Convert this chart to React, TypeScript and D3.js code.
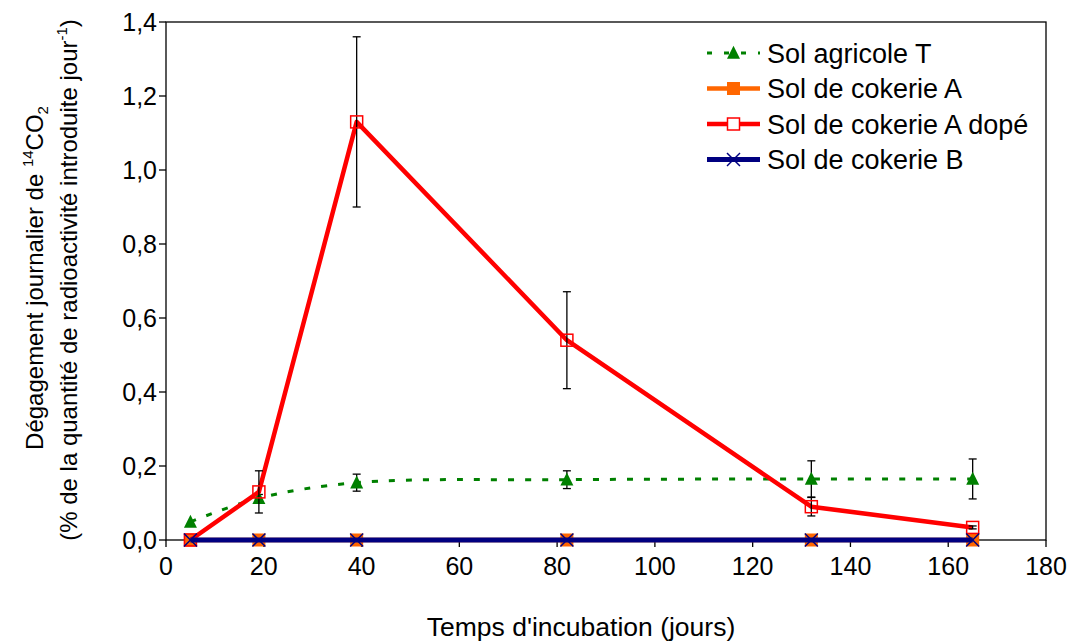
import React from "react";
import * as d3 from "d3";

const days = [5, 19, 39, 82, 132, 165];
const agricoleT = [0.049, 0.113, 0.155, 0.163, 0.165, 0.165];
const agricoleTErr = [0, 0.01, 0.023, 0.024, 0.049, 0.054];
const cokerieA = [0, 0, 0, 0, 0, 0];
const cokerieADope = [0, 0.13, 1.13, 0.54, 0.09, 0.034];
const cokerieADopeErr = [0, 0.057, 0.23, 0.131, 0.025, 0.004];
const cokerieB = [0, 0, 0, 0, 0, 0];
const xTicks = [0, 20, 40, 60, 80, 100, 120, 140, 160, 180];
const yTicks = [0, 0.2, 0.4, 0.6, 0.8, 1.0, 1.2, 1.4];
const legendLabels = ["Sol agricole T", "Sol de cokerie A", "Sol de cokerie A dopé", "Sol de cokerie B"];

const W = 1069;
const H = 643;
const L = 166, R = 1046, T = 22, B = 540;
const FONT = "'Liberation Sans', Arial, sans-serif";

export default function App() {
  const x = d3.scaleLinear().domain([0, 180]).range([L, R]);
  const y = d3.scaleLinear().domain([0, 1.4]).range([B, T]);
  const fmt = (v: number) => v.toFixed(1).replace(".", ",");

  const smooth = d3
    .line<number>()
    .x((_, i) => x(days[i]))
    .y((d) => y(d))
    .curve(d3.curveCatmullRom.alpha(0.5));
  const straight = d3
    .line<number>()
    .x((_, i) => x(days[i]))
    .y((d) => y(d));

  const tri = (cx: number, cy: number, s: number) =>
    `M${cx},${cy - s * 0.55} L${cx + s / 2},${cy + s * 0.45} L${cx - s / 2},${cy + s * 0.45} Z`;

  const errBars = (vals: number[], errs: number[], key: string) =>
    vals.map((v, i) =>
      errs[i] > 0 ? (
        <g key={key + i} stroke="#000" strokeWidth={1.3}>
          <line x1={x(days[i])} x2={x(days[i])} y1={y(v + errs[i])} y2={y(v - errs[i])} />
          <line x1={x(days[i]) - 4} x2={x(days[i]) + 4} y1={y(v + errs[i])} y2={y(v + errs[i])} />
          <line x1={x(days[i]) - 4} x2={x(days[i]) + 4} y1={y(v - errs[i])} y2={y(v - errs[i])} />
        </g>
      ) : null
    );

  const legendY = [53, 88.5, 124, 159.5];
  const lx1 = 707, lx2 = 760, lmx = 733.5, ltx = 767;

  return (
    <svg width={W} height={H} style={{ position: "absolute", left: 0, top: 0, background: "#fff" }} fontFamily={FONT}>
      <rect x={0} y={0} width={W} height={H} fill="#fff" />
      {/* frame */}
      <rect x={L} y={T} width={R - L} height={B - T} fill="none" stroke="#000" strokeWidth={1.3} />
      {/* y ticks */}
      {yTicks.map((t) => (
        <g key={"yt" + t}>
          <line x1={L - 7} x2={L} y1={y(t)} y2={y(t)} stroke="#000" strokeWidth={1.3} />
          <text x={L - 9} y={y(t) + 9} fontSize={25} textAnchor="end" fill="#000">
            {fmt(t)}
          </text>
        </g>
      ))}
      {/* x ticks */}
      {xTicks.map((t) => (
        <g key={"xt" + t}>
          <line x1={x(t)} x2={x(t)} y1={B} y2={B + 7} stroke="#000" strokeWidth={1.3} />
          <text x={x(t)} y={B + 35} fontSize={25} textAnchor="middle" fill="#000">
            {t}
          </text>
        </g>
      ))}
      {/* axis titles */}
      <text x={581} y={636} fontSize={26.5} textAnchor="middle" fill="#000">
        Temps d'incubation (jours)
      </text>
      <g transform="translate(43,278) rotate(-90)">
        <text x={0} y={0} fontSize={24} textAnchor="middle" fill="#000">
          Dégagement journalier de <tspan fontSize={15} dy={-10}>14</tspan>
          <tspan dy={10}>CO</tspan>
          <tspan fontSize={15} dy={5}>2</tspan>
        </text>
      </g>
      <g transform="translate(77,280) rotate(-90)">
        <text x={0} y={0} fontSize={24} textAnchor="middle" fill="#000">
          (% de la quantité de radioactivité introduite jour<tspan fontSize={15} dy={-10}>-1</tspan>
          <tspan dy={10}>)</tspan>
        </text>
      </g>

      {/* Sol agricole T */}
      <path d={smooth(agricoleT) || ""} fill="none" stroke="#008000" strokeWidth={3} strokeDasharray="6 11" />
      {errBars(agricoleT, agricoleTErr, "ea")}
      {agricoleT.map((v, i) => (
        <path key={"ta" + i} d={tri(x(days[i]), y(v), 13)} fill="#008000" />
      ))}

      {/* Sol de cokerie A */}
      <path d={straight(cokerieA) || ""} fill="none" stroke="#FF6600" strokeWidth={4.5} />
      {cokerieA.map((v, i) => (
        <rect key={"sa" + i} x={x(days[i]) - 6.5} y={y(v) - 6.5} width={13} height={13} fill="#FF6600" />
      ))}

      {/* Sol de cokerie A dopé */}
      <path d={straight(cokerieADope) || ""} fill="none" stroke="#FF0000" strokeWidth={4.5} strokeLinejoin="round" />
      {errBars(cokerieADope, cokerieADopeErr, "ed")}
      {cokerieADope.map((v, i) => (
        <rect key={"sd" + i} x={x(days[i]) - 6} y={y(v) - 6} width={12} height={12} fill="none" stroke="#FF0000" strokeWidth={1.5} />
      ))}

      {/* Sol de cokerie B */}
      <path d={straight(cokerieB) || ""} fill="none" stroke="#000080" strokeWidth={5} />
      {cokerieB.map((v, i) => (
        <g key={"xb" + i} stroke="#000080" strokeWidth={1.5}>
          <line x1={x(days[i]) - 6.5} x2={x(days[i]) + 6.5} y1={y(v) - 6.5} y2={y(v) + 6.5} />
          <line x1={x(days[i]) - 6.5} x2={x(days[i]) + 6.5} y1={y(v) + 6.5} y2={y(v) - 6.5} />
        </g>
      ))}

      {/* legend */}
      <g>
        <line x1={lx1} x2={lx2} y1={legendY[0]} y2={legendY[0]} stroke="#008000" strokeWidth={3} strokeDasharray="5 12" />
        <path d={tri(lmx, legendY[0], 13)} fill="#008000" />
        <line x1={lx1} x2={lx2} y1={legendY[1]} y2={legendY[1]} stroke="#FF6600" strokeWidth={4.5} />
        <rect x={lmx - 6.5} y={legendY[1] - 6.5} width={13} height={13} fill="#FF6600" />
        <line x1={lx1} x2={lx2} y1={legendY[2]} y2={legendY[2]} stroke="#FF0000" strokeWidth={4.5} />
        <rect x={lmx - 6} y={legendY[2] - 6} width={12} height={12} fill="#fff" stroke="#FF0000" strokeWidth={1.5} />
        <line x1={lx1} x2={lx2} y1={legendY[3]} y2={legendY[3]} stroke="#000080" strokeWidth={5} />
        <g stroke="#000080" strokeWidth={1.5}>
          <line x1={lmx - 6.5} x2={lmx + 6.5} y1={legendY[3] - 6.5} y2={legendY[3] + 6.5} />
          <line x1={lmx - 6.5} x2={lmx + 6.5} y1={legendY[3] + 6.5} y2={legendY[3] - 6.5} />
        </g>
        {legendLabels.map((lab, i) => (
          <text key={"lt" + i} x={ltx} y={legendY[i] + 9.5} fontSize={27} fill="#000">
            {lab}
          </text>
        ))}
      </g>
    </svg>
  );
}
